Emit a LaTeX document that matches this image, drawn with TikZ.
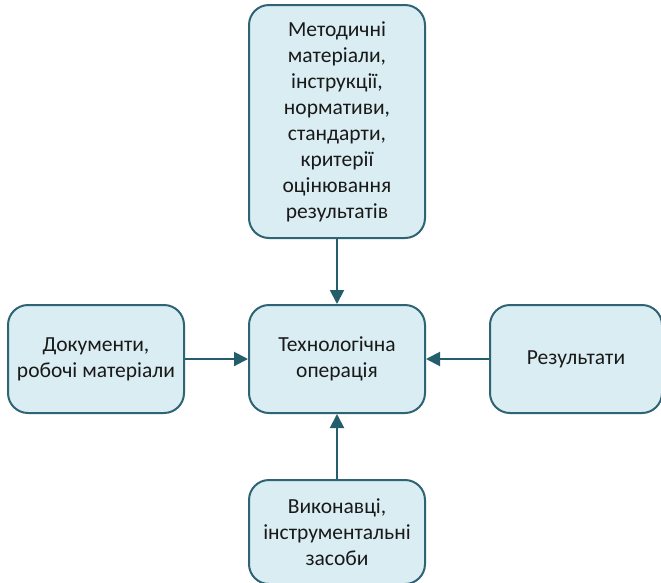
\documentclass[tikz,border=0pt]{standalone}
\usepackage{fontspec}
\setmainfont{Carlito}
\usetikzlibrary{arrows.meta}
\definecolor{boxline}{HTML}{2F6474}
\definecolor{boxfill}{HTML}{DAEDF3}
\definecolor{arrowcol}{HTML}{245E6D}
\begin{document}
\begin{tikzpicture}[x=1pt,y=-1pt,
  block/.style={draw=boxline, fill=boxfill, line width=2pt, rounded corners=20pt,
    align=center, inner sep=0pt, font=\fontsize{21.5}{26}\selectfont, text=black!90},
  link/.style={draw=arrowcol, line width=2pt,
    -{Triangle[length=14pt,width=14pt]}}]
  \useasboundingbox (0,0) rectangle (661,582);
  \clip (0,0) rectangle (661,582);
  \fill[white] (0,0) rectangle (661,582);
  % central operation and the four surrounding inputs
  \node[block, minimum width=176pt, minimum height=108pt] (op) at (337,359)
    {Технологічна\\операція};
  \node[block, minimum width=176pt, minimum height=233pt] (meth) at (337,121.5)
    {Методичні\\матеріали,\\інструкції,\\нормативи,\\стандарти,\\критерії\\оцінювання\\результатів};
  \node[block, minimum width=176pt, minimum height=108pt] (docs) at (96,359)
    {Документи,\\робочі матеріали};
  \node[block, minimum width=172pt, minimum height=108pt] (res) at (576,359)
    {Результати};
  \node[block, minimum width=176pt, minimum height=104pt] (exec) at (337,532)
    {Виконавці,\\інструментальні\\засоби};
  % connectors into the operation
  \draw[link] (meth) -- (op);
  \draw[link] (docs) -- (op);
  \draw[link] (res) -- (op);
  \draw[link] (exec) -- (op);
\end{tikzpicture}
\end{document}
